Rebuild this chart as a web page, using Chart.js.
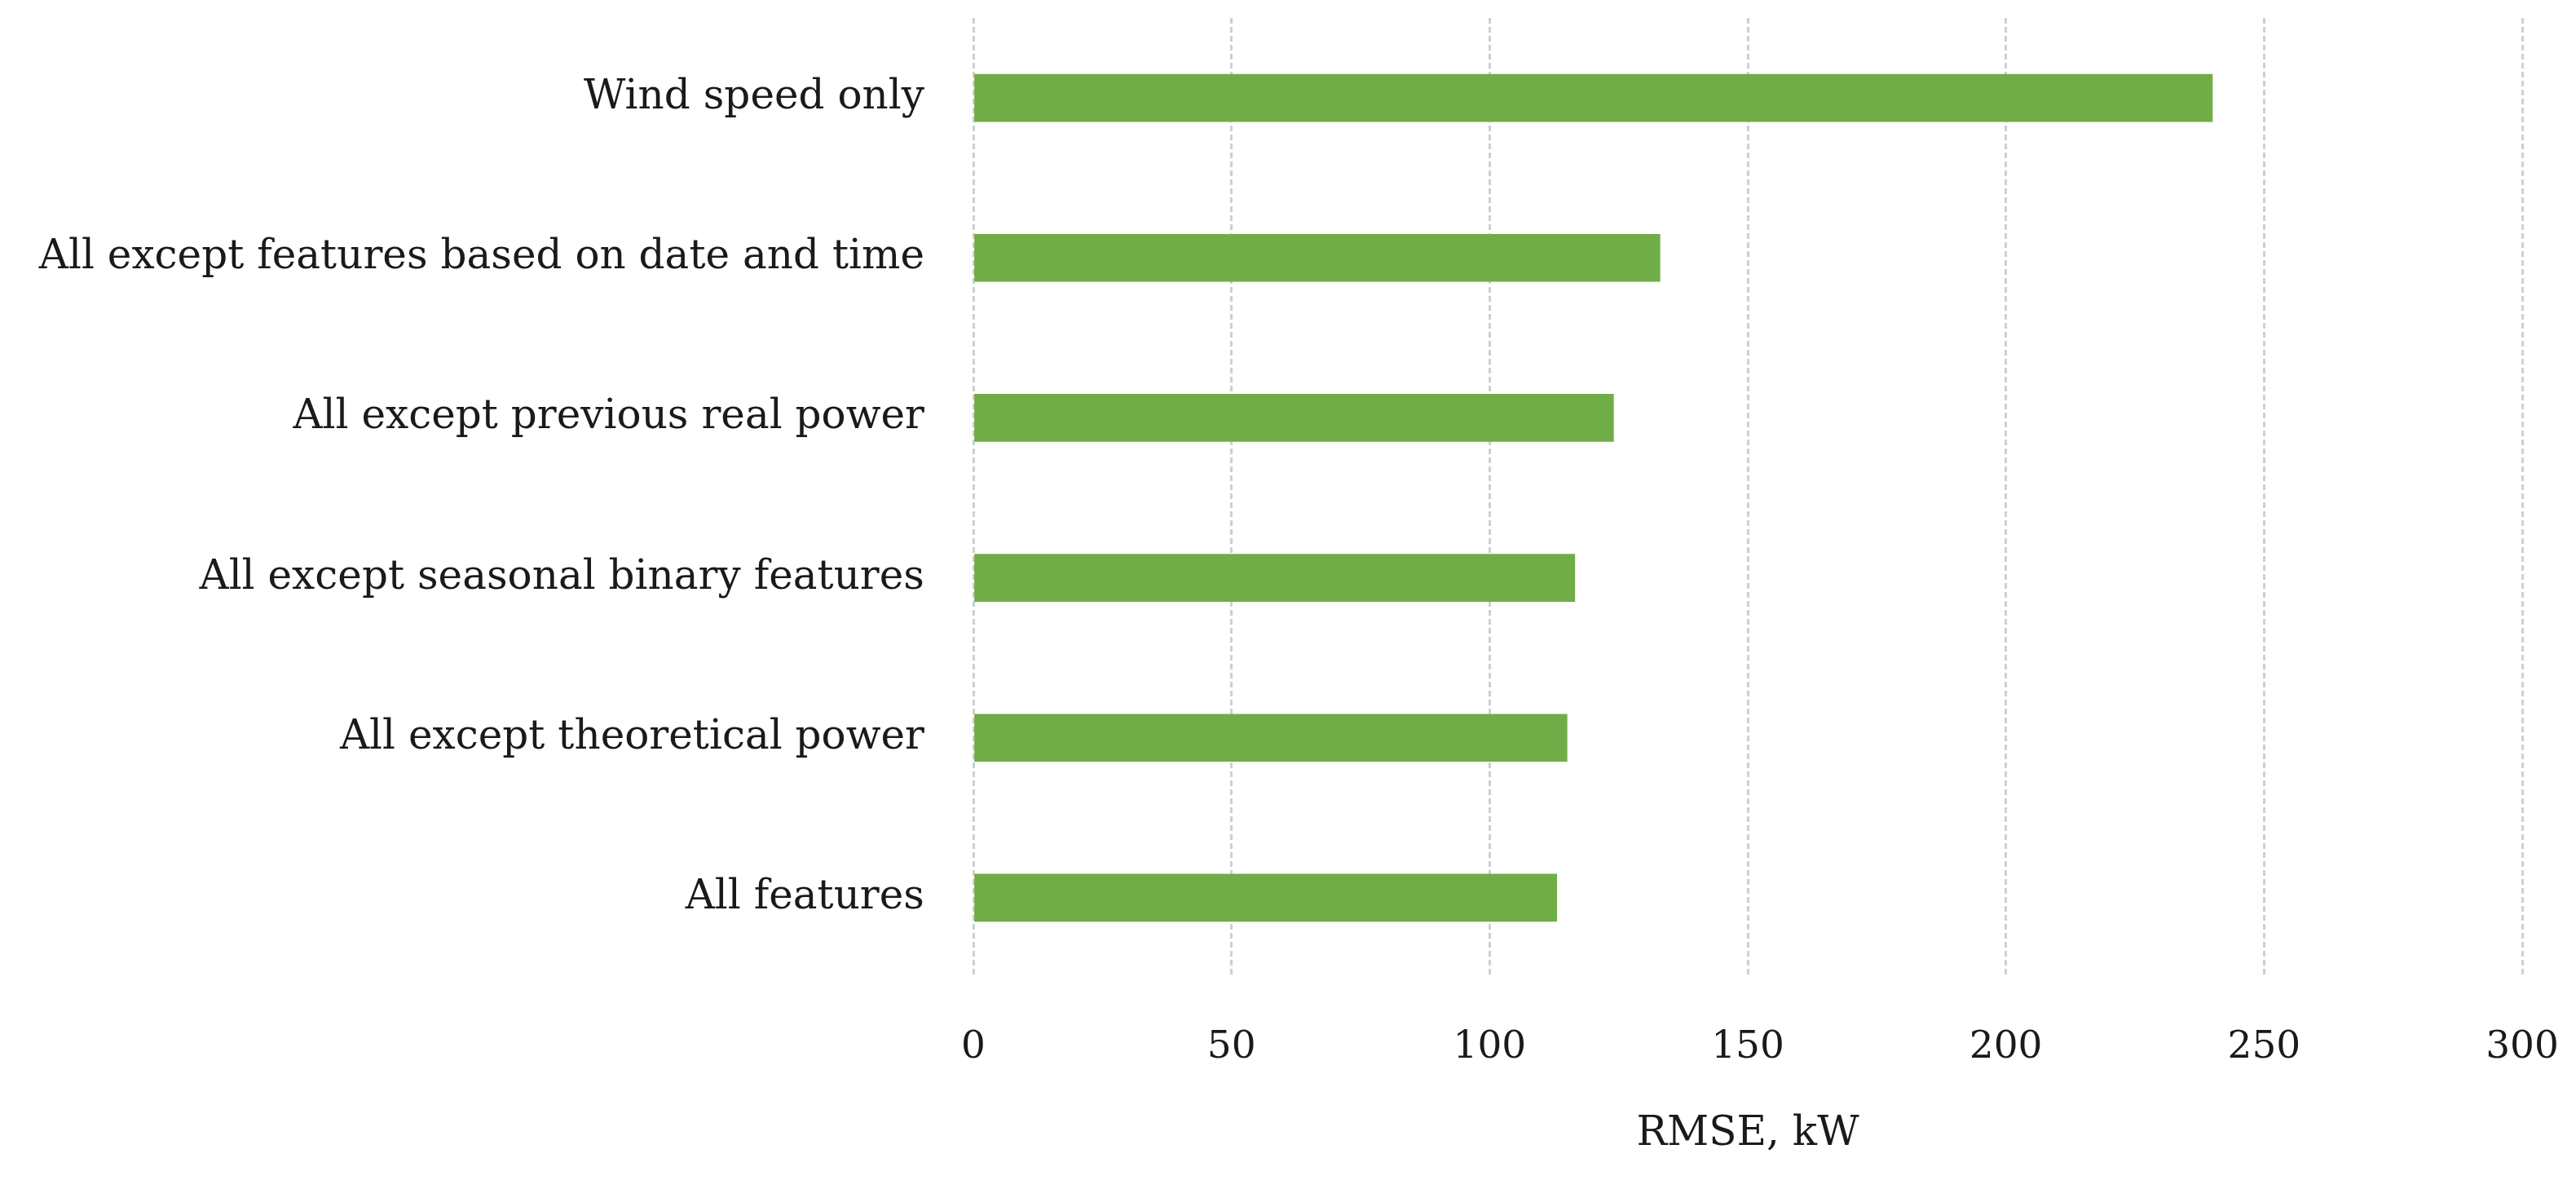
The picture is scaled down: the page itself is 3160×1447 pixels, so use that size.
<!DOCTYPE html>
<html>
<head>
<meta charset="utf-8">
<script src="https://cdn.jsdelivr.net/npm/chart.js@4.4.1/dist/chart.umd.min.js"></script>
<style>
  html,body{margin:0;padding:0;background:#fff;}
  #wrap{width:3160px;height:1447px;}
</style>
</head>
<body>
<div id="wrap"><canvas id="rmseChart" width="3160" height="1447"></canvas></div>
<script>
const categories = [
  'Wind speed only',
  'All except features based on date and time',
  'All except previous real power',
  'All except seasonal binary features',
  'All except theoretical power',
  'All features'
];
const rmseValues = [240, 133, 124, 116.5, 115, 113];
const xTicks = [0, 50, 100, 150, 200, 250, 300];

const fontFamily = '"DejaVu Serif", "Liberation Serif", serif';

const ctx = document.getElementById('rmseChart');
new Chart(ctx, {
  type: 'bar',
  data: {
    labels: categories,
    datasets: [{
      label: 'RMSE, kW',
      data: rmseValues,
      backgroundColor: '#70ad47',
      borderWidth: 0,
      barThickness: 58
    }]
  },
  options: {
    indexAxis: 'y',
    responsive: false,
    animation: false,
    devicePixelRatio: 1,
    layout: {padding: {left: 0, right: 66, top: 22, bottom: 0}},
    plugins: {legend: {display: false}, tooltip: {enabled: false}},
    scales: {
      x: {
        min: xTicks[0],
        max: xTicks[xTicks.length - 1],
        afterBuildTicks: s => { s.ticks = xTicks.map(v => ({value: v})); },
        afterFit: s => { s.height = 248; s.paddingRight = 0; s.paddingLeft = 0; },
        border: {display: false, dash: [7, 4]},
        grid: {color: '#cfcfcf', lineWidth: 3, drawTicks: false},
        ticks: {color: '#1a1a1a', font: {family: fontFamily, size: 47}, padding: 58},
        title: {
          display: true,
          text: 'RMSE, kW',
          color: '#1a1a1a',
          font: {family: fontFamily, size: 50},
          padding: {top: 0, bottom: 26}
        }
      },
      y: {
        afterFit: s => { s.width = 1194; s.paddingTop = 0; s.paddingBottom = 0; },
        border: {display: false},
        grid: {display: false, drawTicks: false},
        ticks: {color: '#1a1a1a', font: {family: fontFamily, size: 50}, padding: 60}
      }
    }
  }
});
</script>
</body>
</html>
